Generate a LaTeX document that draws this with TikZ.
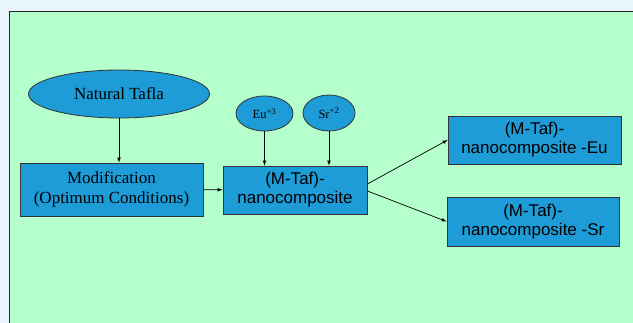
\documentclass[tikz,border=0pt]{standalone}
\usepackage{fontspec}
\setmainfont{Liberation Serif}
\setsansfont{Liberation Sans}
\usetikzlibrary{shapes.geometric}

\definecolor{pageblue}{HTML}{E9F5FC}
\definecolor{panelgreen}{HTML}{B4FFCC}
\definecolor{stageblue}{HTML}{1E9CD8}

\tikzset{
	stagebox/.style={draw=black!80, line width=0.8pt, fill=stageblue, align=center, inner sep=0pt},
	ionoval/.style={ellipse, draw=black!80, line width=0.8pt, fill=stageblue, align=center, inner sep=0pt},
	flow/.style={-latex, line width=0.7pt}
}

\begin{document}
\begin{tikzpicture}[x=1pt, y=-1pt]

	\clip (0,0) rectangle (633,323);
	\fill[pageblue] (0,0) rectangle (633,323);
	\draw[fill=panelgreen, line width=1pt, draw=black!85] (9,12) rectangle (645,335);

	\node (tafla)[ionoval, minimum width=181pt, minimum height=48pt,
		font=\fontsize{17}{20}\selectfont] at (119,94) {Natural Tafla};
	\node (modif)[stagebox, minimum width=183pt, minimum height=53pt,
		font=\fontsize{17}{19.5}\selectfont] at (111.5,189.5) {
		Modification\\(Optimum Conditions)};
	\node (eu)[ionoval, minimum width=57pt, minimum height=35pt,
		font=\fontsize{12.5}{14}\selectfont] at (264.5,113.5) {Eu\textsuperscript{+3}};
	\node (sr)[ionoval, minimum width=52pt, minimum height=36pt,
		font=\fontsize{12.5}{14}\selectfont] at (329,113) {Sr\textsuperscript{+2}};
	\node (mtaf)[stagebox, minimum width=144pt, minimum height=48pt,
		font=\sffamily\fontsize{17}{19}\selectfont] at (295,190) {
		(M-Taf)-\\nanocomposite};
	\node (mtafeu)[stagebox, minimum width=173pt, minimum height=48pt,
		font=\sffamily\fontsize{17}{19}\selectfont] at (534.5,140) {
		(M-Taf)-\\nanocomposite -Eu};
	\node (mtafsr)[stagebox, minimum width=172pt, minimum height=49pt,
		font=\sffamily\fontsize{17}{19}\selectfont] at (533,221.5) {
		(M-Taf)-\\nanocomposite -Sr};

	\draw [flow](tafla.south)--(tafla.south |- modif.north);
	\draw [flow](modif)--(mtaf);
	\draw [flow](eu)--(eu |- mtaf.north);
	\draw [flow](sr)--(sr |- mtaf.north);
	\draw [flow]([yshift=6pt]mtaf.east)--(mtafeu.west);
	\draw [flow]([yshift=-1pt]mtaf.east)--(mtafsr.west);
\end{tikzpicture}
\end{document}
